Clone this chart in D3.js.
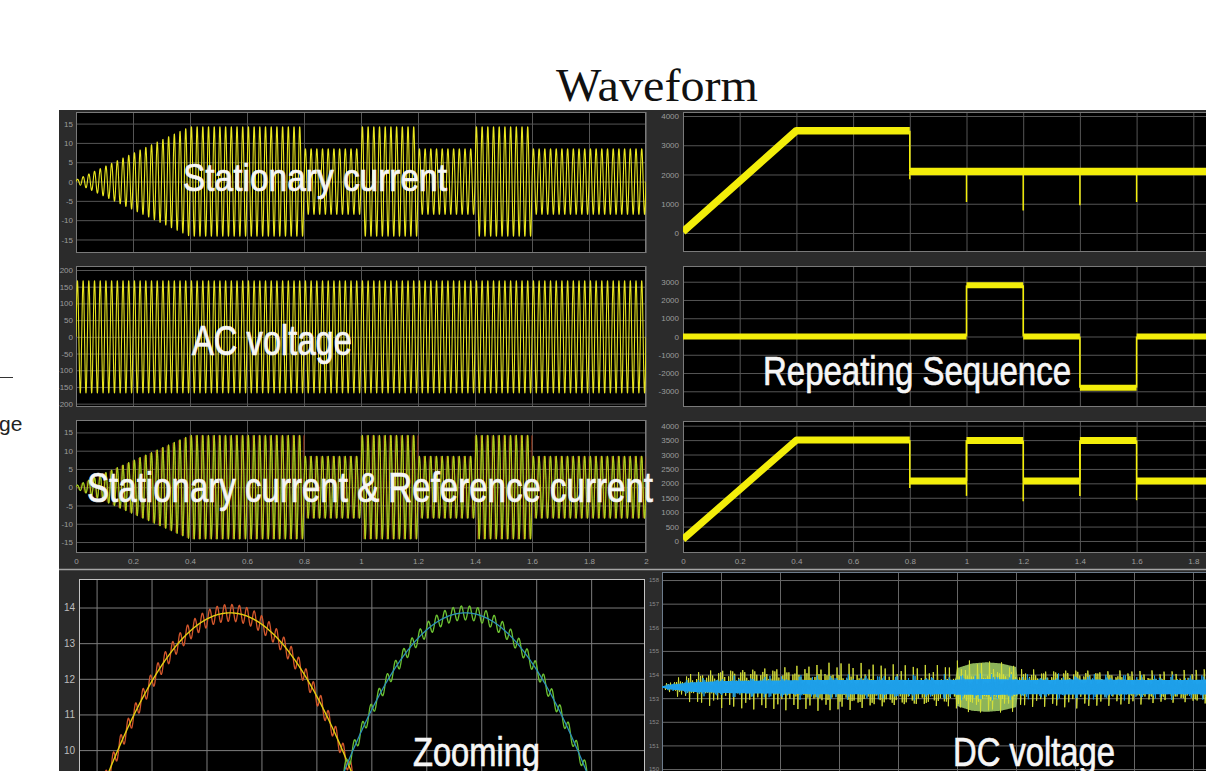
<!DOCTYPE html>
<html>
<head>
<meta charset="utf-8">
<title>Waveform</title>
<script src="https://cdn.jsdelivr.net/npm/d3@7/dist/d3.min.js"></script>
<style>
  html, body { margin: 0; padding: 0; background: #ffffff; overflow: hidden; }
  svg { display: block; }
</style>
</head>
<body>
<svg id="chart" width="1206" height="771"></svg>
<script>
// ---------------- data ----------------
const timeTicks = [0, 0.2, 0.4, 0.6, 0.8, 1, 1.2, 1.4, 1.6, 1.8, 2];
const currentTicks = [-15, -10, -5, 0, 5, 10, 15];
const voltageTicks = [-200, -150, -100, -50, 0, 50, 100, 150, 200];
const speedTicks = [0, 1000, 2000, 3000, 4000];
const sequenceTicks = [-3000, -2000, -1000, 0, 1000, 2000, 3000];
const speedRefTicks = [0, 500, 1000, 1500, 2000, 2500, 3000, 3500, 4000];
const zoomTicksY = [10, 11, 12, 13, 14];
const zoomTicksX = [0, 1, 2, 3, 4, 5, 6, 7, 8, 9];
const dcTicks = [150, 151, 152, 153, 154, 155, 156, 157, 158];

// stationary-frame current: peak envelope (time s, peak A)
const currentEnvTimes = [0, 0.4, 0.8, 0.8, 1.0, 1.0, 1.2, 1.2, 1.4, 1.4, 1.6, 1.6, 2.0];
const currentEnvPeaks = [0.4, 14.2, 14.2, 8.5, 8.5, 14.2, 14.2, 8.5, 8.5, 14.2, 14.2, 8.5, 8.5];
const currentFreq = 50;

// AC supply voltage: peak envelope
const voltageEnvTimes = [0, 2];
const voltageEnvPeaks = [168, 168];
const voltageFreq = 50;

// rotor speed (rpm): piecewise segments and transient dips
const speedSegStart = [0, 0.4, 0.8];
const speedSegEnd = [0.4, 0.8, 2.0];
const speedSegFrom = [40, 3500, 2100];
const speedSegTo = [3500, 3500, 2100];
const speedDipTimes = [0.8, 1.0, 1.2, 1.4, 1.6];
const speedDipValues = [1840, 1060, 770, 950, 1060];

// repeating sequence (load step) segments
const sequenceSegStart = [0, 1.0, 1.2, 1.4, 1.6];
const sequenceSegEnd = [1.0, 1.2, 1.4, 1.6, 2.0];
const sequenceSegFrom = [0, 2800, 0, -2800, 0];
const sequenceSegTo = [0, 2800, 0, -2800, 0];

// speed with reference steps
const speedRefSegStart = [0, 0.4, 0.8, 1.0, 1.2, 1.4, 1.6];
const speedRefSegEnd = [0.4, 0.8, 1.0, 1.2, 1.4, 1.6, 2.0];
const speedRefSegFrom = [60, 3500, 2080, 3490, 2080, 3490, 2080];
const speedRefSegTo = [3500, 3500, 2080, 3490, 2080, 3490, 2080];
const speedRefDipTimes = [0.8, 1.0, 1.2, 1.4, 1.6];
const speedRefDipValues = [1840, 1565, 1380, 1565, 1415];

// zoomed alpha/beta currents
const zoomPeak = 13.85;
const zoomPeriod = 16.8;
const alphaPeakTime = 2.43;
const betaPeakTime = 6.71;
const alphaRipple = 0.24;
const betaRipple = 0.2;
const alphaRipplePeriod = 0.135;
const betaRipplePeriod = 0.15;

// DC-link voltage: level, core band half width and spike half width (V)
const dcLevel = 153.47;
const dcTimes =     [0,    0.03, 0.1,  0.2,  0.3,  0.4,  0.5,  0.6,  0.7,  0.8,  0.9,  0.99, 1.0,  1.1,  1.2,  1.21, 1.3,  1.4,  1.5,  1.6,  1.7,  1.8,  1.85];
const dcBandHalf =  [0.03, 0.1,  0.2,  0.25, 0.27, 0.28, 0.3,  0.3,  0.3,  0.3,  0.3,  0.3,  0.32, 0.34, 0.32, 0.3,  0.3,  0.32, 0.32, 0.3,  0.3,  0.3,  0.32];
const dcSpikeHalf = [0.05, 0.3,  0.7,  0.9,  0.95, 1.0,  1.05, 1.15, 1.05, 1.0,  1.0,  1.05, 1.25, 1.3,  1.2,  1.0,  0.95, 1.05, 0.95, 0.95, 0.9,  0.95, 1.1];
// switching burst during the high-speed interval
const dcBurstTimes = [0.99, 1.0, 1.05, 1.1, 1.15, 1.2, 1.21];
const dcBurstHalf =  [0,    0.8, 1.0,  1.05, 1.0, 0.85, 0];

// ---------------- drawing ----------------
const svg = d3.select('#chart');
const defs = svg.append('defs');
const sansFont = '"Liberation Sans", Arial, Helvetica, sans-serif';
const narrowFont = '"Liberation Sans Narrow", "Arial Narrow", "Liberation Sans", Arial, sans-serif';
let clipCount = 0;

function addClip(x, y, w, h) {
  const id = 'clip' + (clipCount++);
  defs.append('clipPath').attr('id', id)
    .append('rect').attr('x', x).attr('y', y).attr('width', w).attr('height', h);
  return id;
}

// title
svg.append('text')
  .attr('x', 556).attr('y', 101)
  .attr('textLength', 202).attr('lengthAdjust', 'spacingAndGlyphs')
  .style('font', '47px "Liberation Serif", "Times New Roman", serif')
  .attr('fill', '#111')
  .text('Waveform');

// fragments of neighbouring slide text at the left edge
svg.append('line').attr('x1', 0).attr('x2', 13).attr('y1', 377.5).attr('y2', 377.5)
  .attr('stroke', '#333').attr('stroke-width', 1);
svg.append('text').attr('x', -1).attr('y', 431)
  .style('font', `21px ${sansFont}`).attr('fill', '#222').text('ge');

// scope area
const rootClip = addClip(59, 110, 1147, 661);
const root = svg.append('g').attr('clip-path', `url(#${rootClip})`);
root.append('rect').attr('x', 59).attr('y', 110).attr('width', 1147).attr('height', 661).attr('fill', '#2b2b2b');

function makeScope(o) {
  const x = d3.scaleLinear().domain(o.xDomain).range([o.left, o.right]);
  const y = d3.scaleLinear().domain(o.yDomain).range([o.bottom, o.top]);
  const g = root.append('g');
  g.append('rect').attr('x', o.left).attr('y', o.top)
    .attr('width', o.right - o.left).attr('height', o.bottom - o.top).attr('fill', '#000');

  const ya = d3.axisLeft(y).tickValues(o.yTicks).tickSize(-(o.right - o.left))
    .tickPadding(o.pad).tickFormat(d => String(d));
  const yg = g.append('g').attr('transform', `translate(${o.left},0)`).call(ya);
  yg.select('.domain').remove();
  yg.selectAll('line').attr('stroke', o.grid).attr('stroke-width', 1);
  yg.selectAll('text').attr('fill', o.labelColor).style('font', `${o.fs}px ${sansFont}`);

  const xa = d3.axisBottom(x).tickValues(o.xTicks).tickSize(-(o.bottom - o.top))
    .tickPadding(5).tickFormat(o.showX ? (d => String(d)) : () => '');
  const xg = g.append('g').attr('transform', `translate(0,${o.bottom})`).call(xa);
  xg.select('.domain').remove();
  xg.selectAll('line').attr('stroke', o.grid).attr('stroke-width', 1);
  xg.selectAll('text').attr('fill', o.labelColor).style('font', `${o.fs}px ${sansFont}`);

  g.append('rect').attr('x', o.left + 0.5).attr('y', o.top + 0.5)
    .attr('width', o.right - o.left - 1).attr('height', o.bottom - o.top - 1)
    .attr('fill', 'none').attr('stroke', o.border).attr('stroke-width', 1);

  const cid = addClip(o.left, o.top, o.right - o.left, o.bottom - o.top);
  const plot = g.append('g').attr('clip-path', `url(#${cid})`);
  return { x, y, plot, g };
}

function envelopeAt(times, vals, t) {
  for (let i = 0; i < times.length - 1; i++) {
    if (t >= times[i] && t < times[i + 1]) {
      return vals[i] + (vals[i + 1] - vals[i]) * (t - times[i]) / (times[i + 1] - times[i]);
    }
  }
  return vals[vals.length - 1];
}

// sinusoidal carrier under a measured peak envelope
function oscillation(times, peaks, freq, phase, dt) {
  const pts = [];
  for (let t = 0; t <= 2 + 1e-9; t += dt) {
    pts.push([t, envelopeAt(times, peaks, t) * Math.sin(2 * Math.PI * freq * t + phase)]);
  }
  return pts;
}

function drawTrace(sc, pts, color, width, opacity) {
  const line = d3.line().x(d => sc.x(d[0])).y(d => sc.y(d[1]));
  sc.plot.append('path').attr('d', line(pts)).attr('fill', 'none')
    .attr('stroke', color).attr('stroke-width', width).attr('stroke-opacity', opacity ?? 1)
    .attr('stroke-linejoin', 'round');
}

// noisy level traces drawn as thick bands, with thin transition edges and dips
function drawLevels(sc, segStart, segEnd, segFrom, segTo, dipTimes, dipValues, bandWidth, color) {
  const line = d3.line().x(d => sc.x(d[0])).y(d => sc.y(d[1]));
  let run = [];
  const runs = [];
  segStart.forEach((t0, i) => {
    if (i > 0 && segFrom[i] === segTo[i - 1]) {
      run.push([segEnd[i], segTo[i]]);
    } else {
      if (run.length) runs.push(run);
      run = [[t0, segFrom[i]], [segEnd[i], segTo[i]]];
    }
  });
  runs.push(run);
  runs.forEach(r => {
    sc.plot.append('path').attr('d', line(r)).attr('fill', 'none')
      .attr('stroke', color).attr('stroke-width', bandWidth)
      .attr('stroke-linejoin', 'round').attr('stroke-linecap', 'butt');
  });
  for (let i = 1; i < segStart.length; i++) {
    if (segFrom[i] !== segTo[i - 1]) {
      sc.plot.append('line')
        .attr('x1', sc.x(segStart[i])).attr('x2', sc.x(segStart[i]))
        .attr('y1', sc.y(segTo[i - 1])).attr('y2', sc.y(segFrom[i]))
        .attr('stroke', color).attr('stroke-width', 1.6);
    }
  }
  (dipTimes || []).forEach((t, i) => {
    let level = segTo[segTo.length - 1];
    for (let k = 0; k < segStart.length; k++) {
      if (t >= segStart[k] && t < segEnd[k]) level = segFrom[k];
    }
    sc.plot.append('line')
      .attr('x1', sc.x(t)).attr('x2', sc.x(t))
      .attr('y1', sc.y(level)).attr('y2', sc.y(dipValues[i]))
      .attr('stroke', color).attr('stroke-width', 1.5);
  });
}

function bigLabel(text, x, y, size, width) {
  root.append('text').attr('x', x).attr('y', y)
    .attr('textLength', width).attr('lengthAdjust', 'spacingAndGlyphs')
    .style('font', `${size}px ${narrowFont}`)
    .attr('fill', '#f6f6f6').attr('stroke', '#f6f6f6').attr('stroke-width', 0.7)
    .text(text);
}

const topScopeStyle = { grid: '#555', border: '#7a7a7a', labelColor: '#9c9c9c', fs: 8 };
const leftCol = { left: 76, right: 646, pad: 3, xDomain: [0, 2], xTicks: timeTicks };
const rightCol = { left: 683, right: 1250, pad: 4, xDomain: [0, 2], xTicks: timeTicks };

// row 1 left: stationary current
const s1 = makeScope({ ...topScopeStyle, ...leftCol, top: 112, bottom: 253,
  yDomain: [-18.5, 18], yTicks: currentTicks, showX: false });
drawTrace(s1, oscillation(currentEnvTimes, currentEnvPeaks, currentFreq, 0, 0.0004), '#ebe81e', 1.1);

// row 2 left: AC voltage
const s2 = makeScope({ ...topScopeStyle, ...leftCol, top: 266, bottom: 407,
  yDomain: [-210, 212], yTicks: voltageTicks, showX: false });
drawTrace(s2, oscillation(voltageEnvTimes, voltageEnvPeaks, voltageFreq, 0, 0.0004), '#e6e31e', 1.1);

// row 3 left: stationary current with reference
const s3 = makeScope({ ...topScopeStyle, ...leftCol, top: 420, bottom: 553,
  yDomain: [-18, 18.4], yTicks: currentTicks, showX: true });
drawTrace(s3, oscillation(currentEnvTimes, currentEnvPeaks, currentFreq, Math.PI / 2, 0.0004), '#d8481c', 1, 0.4);
drawTrace(s3, oscillation(currentEnvTimes, currentEnvPeaks, currentFreq, 0.15, 0.0004), '#5cc22a', 1.1);
drawTrace(s3, oscillation(currentEnvTimes, currentEnvPeaks, currentFreq, 0, 0.0004), '#dccd18', 1, 0.85);

// row 1 right: speed
const s4 = makeScope({ ...topScopeStyle, ...rightCol, top: 112, bottom: 252,
  yDomain: [-650, 4137], yTicks: speedTicks, showX: false });
drawLevels(s4, speedSegStart, speedSegEnd, speedSegFrom, speedSegTo, speedDipTimes, speedDipValues, 7.5, '#f3ee0a');

// row 2 right: repeating sequence
const s5 = makeScope({ ...topScopeStyle, ...rightCol, top: 266, bottom: 407,
  yDomain: [-3860, 3860], yTicks: sequenceTicks, showX: false });
drawLevels(s5, sequenceSegStart, sequenceSegEnd, sequenceSegFrom, sequenceSegTo, [], [], 6, '#f3ee0a');

// row 3 right: speed with stepped reference
const s6 = makeScope({ ...topScopeStyle, ...rightCol, top: 421, bottom: 553,
  yDomain: [-417, 4163], yTicks: speedRefTicks, showX: true });
drawLevels(s6, speedRefSegStart, speedRefSegEnd, speedRefSegFrom, speedRefSegTo, speedRefDipTimes, speedRefDipValues, 7, '#f3ee0a');

// separator between the two screenshots
root.append('line').attr('x1', 59).attr('x2', 1206).attr('y1', 569.5).attr('y2', 569.5)
  .attr('stroke', '#a4a4a4').attr('stroke-width', 1.5);

// zoomed currents
const s7 = makeScope({ grid: '#7d7d7d', border: '#c4c4c4', labelColor: '#bdbdbd', fs: 10,
  left: 79, right: 645, top: 579, bottom: 800, pad: 4,
  xDomain: [-0.32, 9.98], xTicks: zoomTicksX, yDomain: [8.6, 14.8], yTicks: zoomTicksY, showX: false });
function zoomWave(peakTime, ripple, ripplePeriod) {
  const smooth = [], noisy = [];
  for (let t = -0.32; t <= 9.98; t += 0.01) {
    const v = zoomPeak * Math.cos(2 * Math.PI * (t - peakTime) / zoomPeriod);
    smooth.push([t, v]);
    noisy.push([t, v + ripple * Math.sin(2 * Math.PI * t / ripplePeriod)]);
  }
  return { smooth, noisy };
}
const alphaWave = zoomWave(alphaPeakTime, alphaRipple, alphaRipplePeriod);
const betaWave = zoomWave(betaPeakTime, betaRipple, betaRipplePeriod);
drawTrace(s7, alphaWave.noisy, '#d2562c', 1.3);
drawTrace(s7, alphaWave.smooth, '#e2cf12', 1.4);
drawTrace(s7, betaWave.noisy, '#6cc232', 1.3);
drawTrace(s7, betaWave.smooth, '#2d8fb8', 1.3);

// DC-link voltage
const s8 = makeScope({ grid: '#666', border: '#6d7c8c', labelColor: '#8a8a8a', fs: 6,
  left: 662, right: 1252, top: 572, bottom: 800, pad: 3,
  xDomain: [0, 2], xTicks: timeTicks, yDomain: [148.69, 158.34], yTicks: dcTicks, showX: false });
function dcRipple(halfWidths, f1, f2, dt) {
  const pts = [];
  for (let t = 0; t <= 1.85; t += dt) {
    const m = 0.2 + 0.8 * Math.abs(Math.sin(2 * Math.PI * f2 * t) * Math.cos(2 * Math.PI * f2 * 2.7 * t));
    pts.push([t, dcLevel + envelopeAt(dcTimes, halfWidths, t) * m * Math.sin(2 * Math.PI * f1 * t)]);
  }
  return pts;
}
const burstArea = d3.area()
  .x(d => s8.x(d))
  .y0(d => s8.y(dcLevel - envelopeAt(dcBurstTimes, dcBurstHalf, d)))
  .y1(d => s8.y(dcLevel + envelopeAt(dcBurstTimes, dcBurstHalf, d)));
s8.plot.append('path').attr('d', burstArea(d3.range(0.99, 1.211, 0.002)))
  .attr('fill', '#a6d468').attr('fill-opacity', 0.85);
drawTrace(s8, dcRipple(dcSpikeHalf, 147, 13.7, 0.0017), '#d6e03a', 1, 0.95);
const dcArea = d3.area()
  .x(d => s8.x(d))
  .y0(d => s8.y(dcLevel - envelopeAt(dcTimes, dcBandHalf, d)))
  .y1(d => s8.y(dcLevel + envelopeAt(dcTimes, dcBandHalf, d)));
s8.plot.append('path').attr('d', dcArea(d3.range(0, 1.851, 0.005))).attr('fill', '#1ea2ec');
drawTrace(s8, dcRipple(dcBandHalf.map(v => v * 1.9), 181, 9.1, 0.0015), '#1e9ee8', 1, 0.9);

// annotations
bigLabel('Stationary current', 183, 191, 39, 264);
bigLabel('AC voltage', 192, 355, 42, 160);
bigLabel('Stationary current & Reference current', 87, 502, 42, 566);
bigLabel('Repeating Sequence', 763, 385, 40, 308);
bigLabel('Zooming', 413, 766, 41, 127);
bigLabel('DC voltage', 953, 766, 41, 162);
</script>
</body>
</html>
